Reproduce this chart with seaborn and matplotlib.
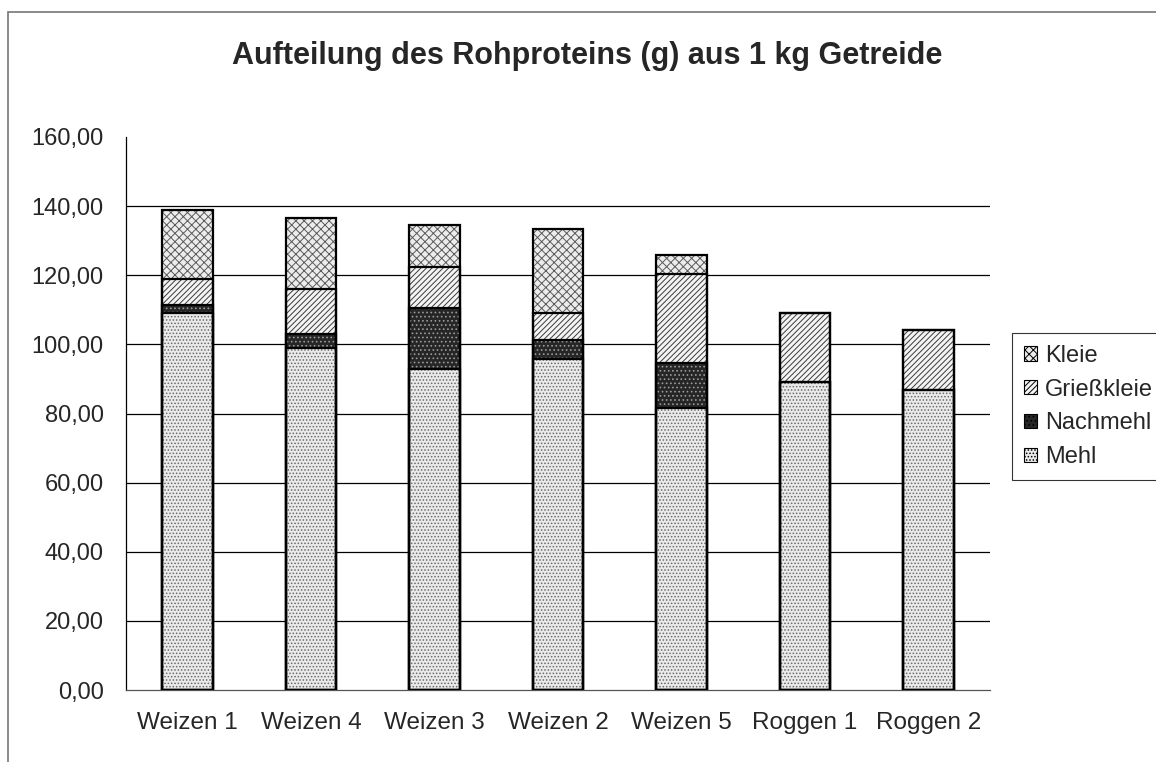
import numpy as np
import pandas as pd
import seaborn as sns
import matplotlib.pyplot as plt
from matplotlib.patches import Patch, Rectangle

# data (g Rohprotein aus 1 kg Getreide)
sorten = ['Weizen 1', 'Weizen 4', 'Weizen 3', 'Weizen 2', 'Weizen 5', 'Roggen 1', 'Roggen 2']
mehl = [109.1, 98.9, 92.8, 95.7, 81.6, 89.0, 86.8]
nachmehl = [2.4, 4.2, 17.6, 5.7, 13.1, 0.0, 0.0]
griesskleie = [7.5, 12.8, 12.1, 7.8, 25.6, 20.1, 17.3]
kleie = [20.0, 20.8, 12.1, 24.1, 5.5, 0.0, 0.0]

df = pd.DataFrame({'Sorte': sorten, 'Mehl': mehl, 'Nachmehl': nachmehl,
                   'Grießkleie': griesskleie, 'Kleie': kleie})
layers = ['Mehl', 'Nachmehl', 'Grießkleie', 'Kleie']
cum = df[layers].cumsum(axis=1)
cum['Sorte'] = df['Sorte']

# face, hatch colour, hatch pattern
styles = {
    'Kleie': ('#ececec', '#5a5a5a', 'xxxx'),
    'Grießkleie': ('#f4f4f4', '#3a3a3a', '//////'),
    'Nachmehl': ('#262626', '#9a9a9a', '....'),
    'Mehl': ('#eaeaea', '#6a6a6a', '.....'),
}

sns.set_style('white')
plt.rcParams['font.family'] = ['Liberation Sans', 'DejaVu Sans']
plt.rcParams['hatch.linewidth'] = 0.7

fig = plt.figure(figsize=(11.56, 7.62), dpi=100)
ax = fig.add_axes([126 / 1156, 1 - 690 / 762, (990 - 126) / 1156, (690 - 137) / 762])

# stacked bars: draw the running totals from the top layer down
for layer in reversed(layers):
    face, hcol, hatch = styles[layer]
    sns.barplot(data=cum, x='Sorte', y=layer, color=face, saturation=1,
                edgecolor=hcol, linewidth=0, hatch=hatch, width=0.41, ax=ax, zorder=2)
    sns.barplot(data=cum, x='Sorte', y=layer, fill=False, color='black',
                edgecolor='black', linewidth=1.6, width=0.41, ax=ax, zorder=3)

ax.set_ylim(0, 160)
ax.set_xlim(-0.5, len(sorten) - 0.5)
ticks = np.arange(0, 161, 20)
ax.set_yticks(ticks)
ax.set_yticklabels([f'{t:.2f}'.replace('.', ',') for t in ticks], fontsize=17)
ax.set_xticks(range(len(sorten)))
ax.set_xticklabels(sorten, fontsize=17.5)
for t in ticks[1:-1]:
    ax.axhline(t, color='black', linewidth=0.9, zorder=1)

# category separator ticks on the x axis
ax.set_xticks(np.arange(-0.5, len(sorten)), minor=True)
ax.tick_params(axis='x', which='major', length=0, pad=16)
ax.tick_params(axis='x', which='minor', length=8, width=0.9, color='#555555', direction='out')
ax.tick_params(axis='y', length=6, width=0.9, color='black', direction='out', pad=10)
ax.set_xlabel('')
ax.set_ylabel('')
sns.despine(ax=ax, top=True, right=True)
ax.spines['left'].set_color('black')
ax.spines['bottom'].set_color('#555555')
ax.spines['left'].set_linewidth(0.9)
ax.spines['bottom'].set_linewidth(0.9)

fig.text(587 / 1156, 1 - 56 / 762, 'Aufteilung des Rohproteins (g) aus 1 kg Getreide',
         ha='center', va='center', fontsize=22, fontweight='bold')

handles = []
for layer in reversed(layers):
    face, hcol, hatch = styles[layer]
    handles.append(Patch(facecolor=face, edgecolor='black', hatch=hatch, linewidth=0.8, label=layer))
leg = fig.legend(handles=handles, loc='upper left', bbox_to_anchor=(1012 / 1156, 1 - 333 / 762),
                 frameon=True, fancybox=False, edgecolor='black', fontsize=17,
                 handlelength=0.55, handleheight=0.55, handletextpad=0.35,
                 labelspacing=0.5, borderpad=0.5, borderaxespad=0)
leg.get_frame().set_linewidth(0.8)

# outer chart-area border (cropped on right and bottom)
fig.patches.append(Rectangle((8 / 1156, -0.1), 1.2, 1 - 12 / 762 + 0.1, transform=fig.transFigure,
                             fill=False, edgecolor='#777777', linewidth=1.2))

fig.savefig('out.png', dpi=100)
